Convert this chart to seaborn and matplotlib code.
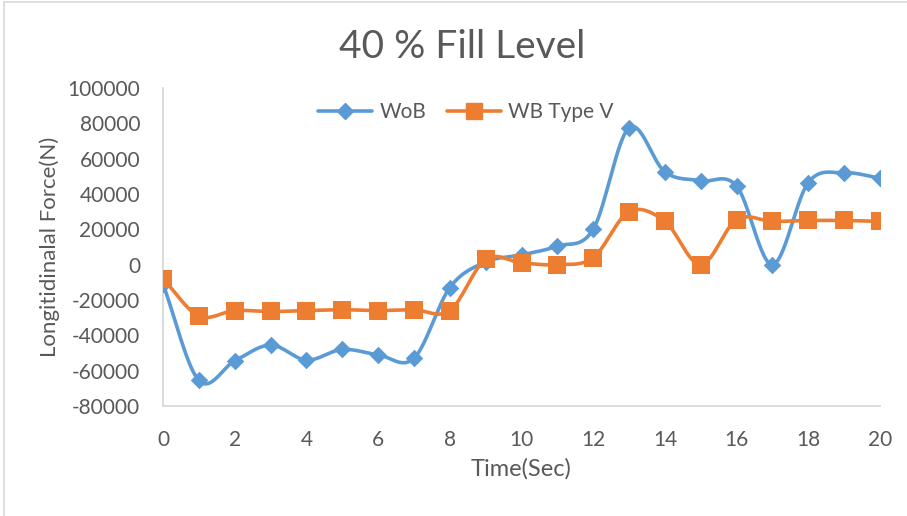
import numpy as np
import pandas as pd
import matplotlib
matplotlib.use("Agg")
import matplotlib.pyplot as plt
import seaborn as sns
from matplotlib.lines import Line2D

# Longitudinal force over time at 40 % fill level
time_sec = list(range(21))
wob = [-11000, -65500, -54500, -45500, -54000, -48000, -51000, -53000,
       -13000, 1500, 5500, 10500, 20000, 77500, 52500, 47500, 44500,
       0, 46500, 52000, 49000]
wb_type_v = [-8000, -29000, -26000, -26500, -26000, -25500, -26000,
             -25500, -26000, 3000, 1000, 0, 4000, 30000, 24500, 0,
             25500, 24500, 25000, 25000, 24500]
series_names = ["WoB", "WB Type V"]
y_ticks = list(range(-80000, 100001, 20000))
x_ticks = list(range(0, 21, 2))

BLUE = "#5B9BD5"
ORANGE = "#ED7D31"
TEXT = "#595959"
AXIS = "#D9D9D9"


def smooth_curve(x, y, n=30):
    """Catmull-Rom spline through the points, like a smoothed office line chart."""
    x = np.asarray(x, float)
    y = np.asarray(y, float)
    px = np.concatenate([[2 * x[0] - x[1]], x, [2 * x[-1] - x[-2]]])
    py = np.concatenate([[2 * y[0] - y[1]], y, [2 * y[-1] - y[-2]]])
    xs, ys = [], []
    t = np.linspace(0, 1, n, endpoint=False)
    for i in range(1, len(px) - 2):
        for arr, out in ((px, xs), (py, ys)):
            p0, p1, p2, p3 = arr[i - 1], arr[i], arr[i + 1], arr[i + 2]
            out.extend(0.5 * ((2 * p1) + (-p0 + p2) * t
                              + (2 * p0 - 5 * p1 + 4 * p2 - p3) * t ** 2
                              + (-p0 + 3 * p1 - 3 * p2 + p3) * t ** 3))
    xs.append(x[-1])
    ys.append(y[-1])
    return np.array(xs), np.array(ys)


sns.set_theme(style="white")
plt.rcParams["font.family"] = ["Lato", "DejaVu Sans"]
plt.rcParams["axes.unicode_minus"] = False

df = pd.DataFrame({"Time": time_sec * 2,
                   "Force": wob + wb_type_v,
                   "Series": [series_names[0]] * 21 + [series_names[1]] * 21})

fig = plt.figure(figsize=(9.07, 5.16), dpi=100)
ax = fig.add_axes([163 / 907, 1 - 406 / 516, (880 - 163) / 907, (406 - 88) / 516])

colors = {series_names[0]: BLUE, series_names[1]: ORANGE}
markers = {series_names[0]: "D", series_names[1]: "s"}
msizes = {series_names[0]: 80, series_names[1]: 150}

for name in series_names:
    sub = df[df["Series"] == name]
    sx, sy = smooth_curve(sub["Time"], sub["Force"])
    sns.lineplot(x=sx, y=sy, ax=ax, color=colors[name], linewidth=2.6,
                 sort=False, estimator=None, zorder=2)
for name in series_names:
    sub = df[df["Series"] == name]
    sns.scatterplot(data=sub, x="Time", y="Force", ax=ax, color=colors[name],
                    marker=markers[name], s=msizes[name], linewidth=0,
                    zorder=3, legend=False)

ax.set_xlim(0, 20)
ax.set_ylim(-80000, 100000)
ax.set_xticks(x_ticks)
ax.set_yticks(y_ticks)
ax.tick_params(axis="both", labelsize=15, colors=TEXT, length=0)
ax.tick_params(axis="y", pad=16.5)
ax.tick_params(axis="x", pad=17)
ax.set_xlabel("Time(Sec)", fontsize=17, color=TEXT, labelpad=6)
ax.set_ylabel("Longitidinalal Force(N)", fontsize=16, color=TEXT, labelpad=5)

for side in ("top", "right"):
    ax.spines[side].set_visible(False)
for side in ("left", "bottom"):
    ax.spines[side].set_color(AXIS)
    ax.spines[side].set_linewidth(1.3)

fig.suptitle("40 % Fill Level", x=462 / 907, y=1 - 47 / 516, va="center",
             fontsize=28, color=TEXT)

handles = [Line2D([0], [0], color=BLUE, lw=2.6, marker="D", markersize=8),
           Line2D([0], [0], color=ORANGE, lw=2.6, marker="s", markersize=11)]
ax.legend(handles, series_names, loc="center", bbox_to_anchor=(466 / 907, 1 - 112 / 516),
          bbox_transform=fig.transFigure, ncol=2, frameon=False, fontsize=15,
          labelcolor=TEXT, handlelength=2.6, columnspacing=1.0, handletextpad=0.35)

# Chart area border
fig.add_artist(Line2D([4 / 907, 4 / 907], [0, 1 - 2 / 516], transform=fig.transFigure,
                      color=AXIS, lw=1.2))
fig.add_artist(Line2D([4 / 907, 1], [1 - 2 / 516, 1 - 2 / 516], transform=fig.transFigure,
                      color=AXIS, lw=1.2))

fig.savefig("out.png", dpi=100)
